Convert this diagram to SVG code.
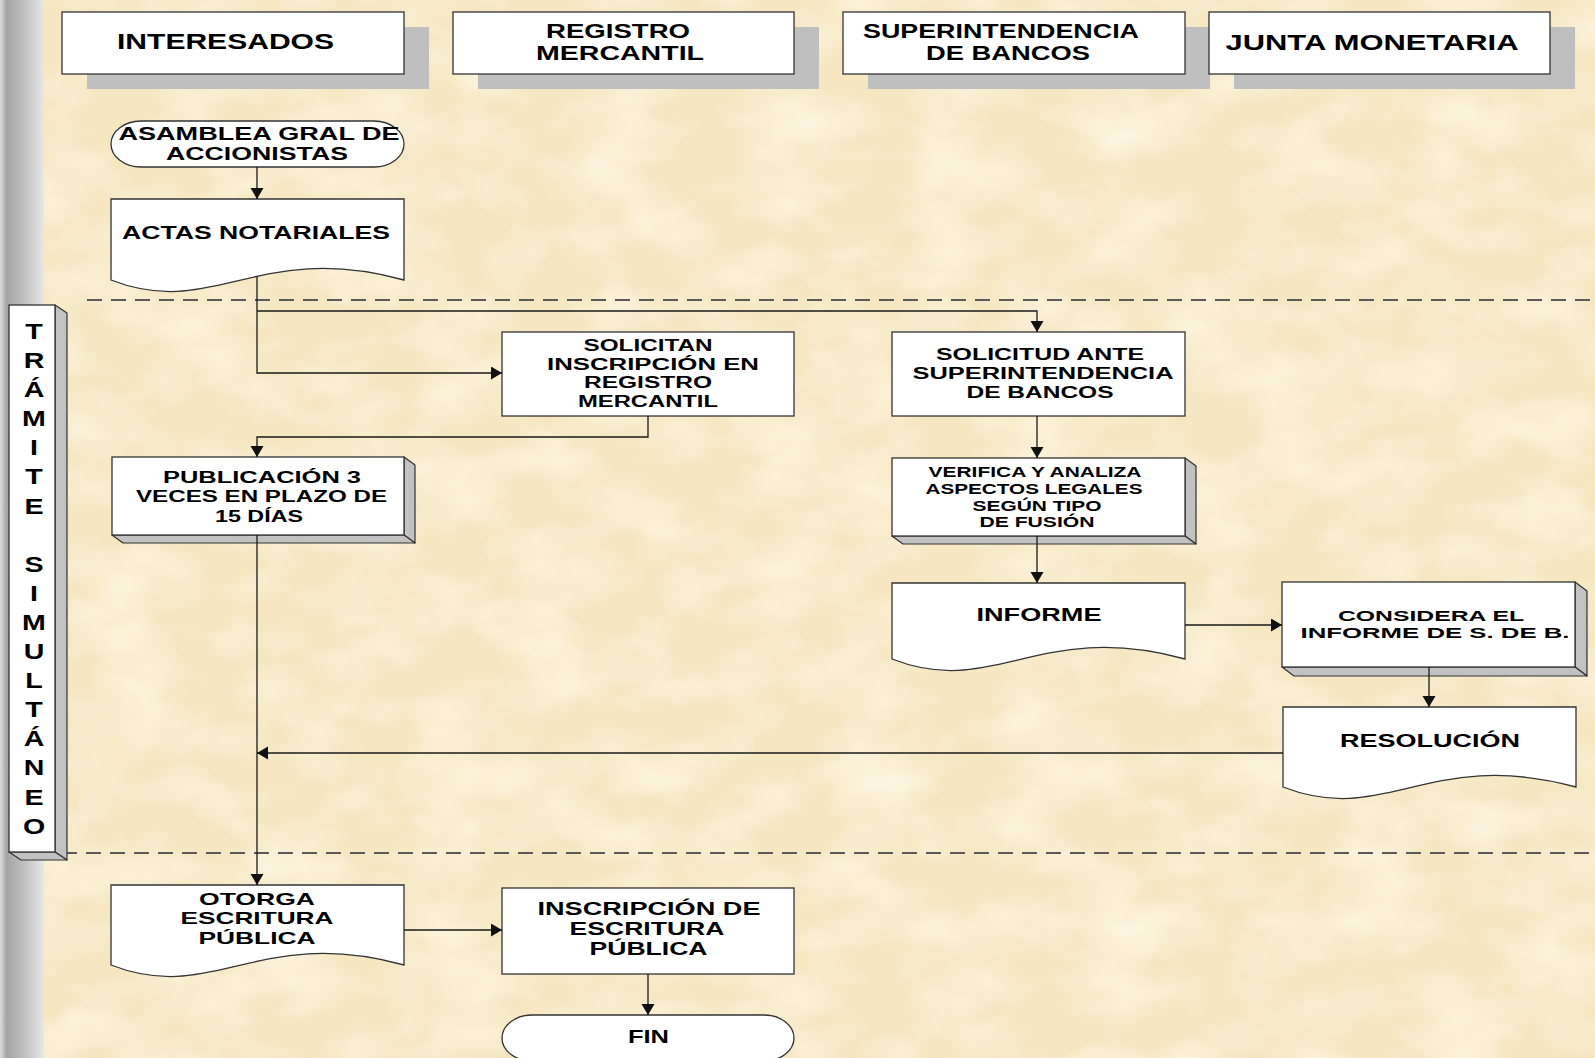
<svg xmlns="http://www.w3.org/2000/svg" width="1595" height="1058" viewBox="0 0 1595 1058">
<defs>
<linearGradient id="strip" x1="0" y1="0" x2="1" y2="0">
<stop offset="0" stop-color="#dcdcdc"/>
<stop offset="0.15" stop-color="#a4a4a4"/>
<stop offset="0.6" stop-color="#c4c4c4"/>
<stop offset="1" stop-color="#e8e8e8"/>
</linearGradient>
<filter id="tex" x="0" y="0" width="100%" height="100%">
<feTurbulence type="fractalNoise" baseFrequency="0.012 0.02" numOctaves="3" seed="4"/>
<feColorMatrix type="matrix" values="0 0 0 0 1  0 0 0 0 0.965  0 0 0 0 0.86  0 0 0 1.3 -0.5"/>
</filter>
<marker id="ah" markerUnits="userSpaceOnUse" markerWidth="12" markerHeight="14" refX="11" refY="6.5" orient="auto">
<path d="M0,0 L11,6.5 L0,13 Z" fill="#111"/>
</marker>
<style>
.box{fill:#fff;stroke:#333;stroke-width:1.3}
.shadow{fill:#bfbfbf}
.side{fill:#c2c2c2;stroke:#333;stroke-width:1.2;stroke-linejoin:round}
.t{font-family:"Liberation Sans",Arial,sans-serif;font-weight:bold;fill:#000;text-anchor:middle}
.conn{fill:none;stroke:#1a1a1a;stroke-width:1.3}
.dash{stroke:#5a5a5a;stroke-width:2;stroke-dasharray:15 9;fill:none}
</style>
</defs>
<rect x="0" y="0" width="1595" height="1058" fill="#f6e7c2"/>
<rect x="44" y="0" width="1551" height="1058" filter="url(#tex)"/>
<rect x="0" y="0" width="44" height="1058" fill="url(#strip)"/>

<g id="dividers">
<line class="dash" x1="87" y1="300" x2="1595" y2="300"/>
<line class="dash" x1="62" y1="853" x2="1595" y2="853"/>
</g>

<g id="header-interesados">
<rect class="shadow" x="87" y="27" width="342" height="62"/>
<rect class="box" x="62" y="12" width="342" height="62"/>
<text class="t" x="225.5" y="49" font-size="22" textLength="217" lengthAdjust="spacingAndGlyphs">INTERESADOS</text>
</g>
<g id="header-registro">
<rect class="shadow" x="478" y="27" width="341" height="62"/>
<rect class="box" x="453" y="12" width="341" height="62"/>
<text class="t" x="618" y="38" font-size="20" textLength="144" lengthAdjust="spacingAndGlyphs">REGISTRO</text>
<text class="t" x="620" y="60" font-size="20" textLength="168" lengthAdjust="spacingAndGlyphs">MERCANTIL</text>
</g>
<g id="header-superintendencia">
<rect class="shadow" x="868" y="27" width="342" height="62"/>
<rect class="box" x="843" y="12" width="342" height="62"/>
<text class="t" x="1001" y="38" font-size="20" textLength="276" lengthAdjust="spacingAndGlyphs">SUPERINTENDENCIA</text>
<text class="t" x="1008" y="60" font-size="20" textLength="164" lengthAdjust="spacingAndGlyphs">DE BANCOS</text>
</g>
<g id="header-junta">
<rect class="shadow" x="1234" y="27" width="341" height="62"/>
<rect class="box" x="1209" y="12" width="341" height="62"/>
<text class="t" x="1372" y="50" font-size="22" textLength="293" lengthAdjust="spacingAndGlyphs">JUNTA MONETARIA</text>
</g>

<g id="tramite-simultaneo">
<polygon class="side" points="55,305 67,313 67,860 55,852"/>
<polygon class="side" points="9,852 55,852 67,860 21,860"/>
<rect class="box" x="9" y="305" width="46" height="547"/>
<g transform="translate(34 0) scale(1.3 1)" class="t" font-size="22">
<text x="0" y="339">T</text>
<text x="0" y="368">R</text>
<text x="0" y="397">Á</text>
<text x="0" y="426">M</text>
<text x="0" y="455">I</text>
<text x="0" y="484">T</text>
<text x="0" y="514">E</text>
<text x="0" y="572">S</text>
<text x="0" y="601">I</text>
<text x="0" y="630">M</text>
<text x="0" y="659">U</text>
<text x="0" y="688">L</text>
<text x="0" y="717">T</text>
<text x="0" y="746">Á</text>
<text x="0" y="775">N</text>
<text x="0" y="805">E</text>
<text x="0" y="834">O</text>
</g>
</g>

<g id="asamblea">
<rect class="box" x="111" y="121" width="293" height="46" rx="30" ry="23"/>
<text class="t" x="259" y="140" font-size="17.5" textLength="281" lengthAdjust="spacingAndGlyphs">ASAMBLEA GRAL DE</text>
<text class="t" x="257" y="160" font-size="17.5" textLength="182" lengthAdjust="spacingAndGlyphs">ACCIONISTAS</text>
</g>

<g id="actas">
<path class="box" d="M111,199 H404 V280 C257.5,240 213.5,320 111,280 Z"/>
<text class="t" x="256" y="239" font-size="18" textLength="268" lengthAdjust="spacingAndGlyphs">ACTAS NOTARIALES</text>
</g>

<g id="solicitan">
<rect class="box" x="502" y="332" width="292" height="84"/>
<text class="t" x="648" y="351" font-size="16" textLength="129" lengthAdjust="spacingAndGlyphs">SOLICITAN</text>
<text class="t" x="653" y="369.5" font-size="16" textLength="212" lengthAdjust="spacingAndGlyphs">INSCRIPCIÓN EN</text>
<text class="t" x="648" y="388" font-size="16" textLength="128" lengthAdjust="spacingAndGlyphs">REGISTRO</text>
<text class="t" x="648" y="406.5" font-size="16" textLength="140" lengthAdjust="spacingAndGlyphs">MERCANTIL</text>
</g>

<g id="solicitud">
<rect class="box" x="892" y="332" width="293" height="84"/>
<text class="t" x="1040" y="360" font-size="16" textLength="208" lengthAdjust="spacingAndGlyphs">SOLICITUD ANTE</text>
<text class="t" x="1043" y="379" font-size="16" textLength="261" lengthAdjust="spacingAndGlyphs">SUPERINTENDENCIA</text>
<text class="t" x="1040" y="398" font-size="16" textLength="147" lengthAdjust="spacingAndGlyphs">DE BANCOS</text>
</g>

<g id="publicacion">
<polygon class="side" points="404,457 415,465 415,543 404,535"/>
<polygon class="side" points="112,535 404,535 415,543 123,543"/>
<rect class="box" x="112" y="457" width="292" height="78"/>
<text class="t" x="262" y="483" font-size="16" textLength="198" lengthAdjust="spacingAndGlyphs">PUBLICACIÓN 3</text>
<text class="t" x="261.5" y="502" font-size="16" textLength="251" lengthAdjust="spacingAndGlyphs">VECES EN PLAZO DE</text>
<text class="t" x="259" y="522" font-size="16" textLength="88" lengthAdjust="spacingAndGlyphs">15 DÍAS</text>
</g>

<g id="verifica">
<polygon class="side" points="1185,458 1196,466 1196,544 1185,536"/>
<polygon class="side" points="892,536 1185,536 1196,544 903,544"/>
<rect class="box" x="892" y="458" width="293" height="78"/>
<text class="t" x="1035" y="477" font-size="15" textLength="213" lengthAdjust="spacingAndGlyphs">VERIFICA Y ANALIZA</text>
<text class="t" x="1034" y="494" font-size="15" textLength="217" lengthAdjust="spacingAndGlyphs">ASPECTOS LEGALES</text>
<text class="t" x="1037" y="511" font-size="15" textLength="129" lengthAdjust="spacingAndGlyphs">SEGÚN TIPO</text>
<text class="t" x="1037" y="527" font-size="15" textLength="115" lengthAdjust="spacingAndGlyphs">DE FUSIÓN</text>
</g>

<g id="informe">
<path class="box" d="M892,583 H1185 V659 C1038.5,619 994.5,699 892,659 Z"/>
<text class="t" x="1039" y="621" font-size="18.5" textLength="125" lengthAdjust="spacingAndGlyphs">INFORME</text>
</g>

<g id="considera">
<polygon class="side" points="1575,582 1587,591 1587,676 1575,667"/>
<polygon class="side" points="1282,667 1575,667 1587,676 1294,676"/>
<rect class="box" x="1282" y="582" width="293" height="85"/>
<text class="t" x="1431" y="621" font-size="15.5" textLength="186" lengthAdjust="spacingAndGlyphs">CONSIDERA EL</text>
<text class="t" x="1435" y="638" font-size="15.5" textLength="269" lengthAdjust="spacingAndGlyphs">INFORME DE S. DE B.</text>
</g>

<g id="resolucion">
<path class="box" d="M1283,707 H1576 V787 C1429.5,747 1385.5,827 1283,787 Z"/>
<text class="t" x="1430" y="747" font-size="18" textLength="180" lengthAdjust="spacingAndGlyphs">RESOLUCIÓN</text>
</g>

<g id="otorga">
<path class="box" d="M111,885 H404 V965 C257.5,925 213.5,1005 111,965 Z"/>
<text class="t" x="257" y="905" font-size="17" textLength="116" lengthAdjust="spacingAndGlyphs">OTORGA</text>
<text class="t" x="257" y="924" font-size="17" textLength="153" lengthAdjust="spacingAndGlyphs">ESCRITURA</text>
<text class="t" x="257" y="944" font-size="17" textLength="117" lengthAdjust="spacingAndGlyphs">PÚBLICA</text>
</g>

<g id="inscripcion">
<rect class="box" x="502" y="888" width="292" height="86"/>
<text class="t" x="649" y="915" font-size="17.5" textLength="223" lengthAdjust="spacingAndGlyphs">INSCRIPCIÓN DE</text>
<text class="t" x="647" y="935" font-size="17.5" textLength="155" lengthAdjust="spacingAndGlyphs">ESCRITURA</text>
<text class="t" x="648.5" y="955" font-size="17.5" textLength="118" lengthAdjust="spacingAndGlyphs">PÚBLICA</text>
</g>

<g id="fin">
<rect class="box" x="502" y="1015" width="292" height="46" rx="30" ry="23"/>
<text class="t" x="648.5" y="1043" font-size="18" textLength="41" lengthAdjust="spacingAndGlyphs">FIN</text>
</g>

<g id="connectors">
<path class="conn" d="M257,167 V199" marker-end="url(#ah)"/>
<path class="conn" d="M257,277 V373 H502" marker-end="url(#ah)"/>
<path class="conn" d="M257,311 H1037 V332" marker-end="url(#ah)"/>
<path class="conn" d="M648,416 V437 H257 V457" marker-end="url(#ah)"/>
<path class="conn" d="M1037,416 V458" marker-end="url(#ah)"/>
<path class="conn" d="M1037,536 V583" marker-end="url(#ah)"/>
<path class="conn" d="M1185,625 H1282" marker-end="url(#ah)"/>
<path class="conn" d="M1429,667 V707" marker-end="url(#ah)"/>
<path class="conn" d="M1283,753 H257" marker-end="url(#ah)"/>
<path class="conn" d="M257,535 V885" marker-end="url(#ah)"/>
<path class="conn" d="M404,930 H502" marker-end="url(#ah)"/>
<path class="conn" d="M648,974 V1015" marker-end="url(#ah)"/>
</g>
</svg>
